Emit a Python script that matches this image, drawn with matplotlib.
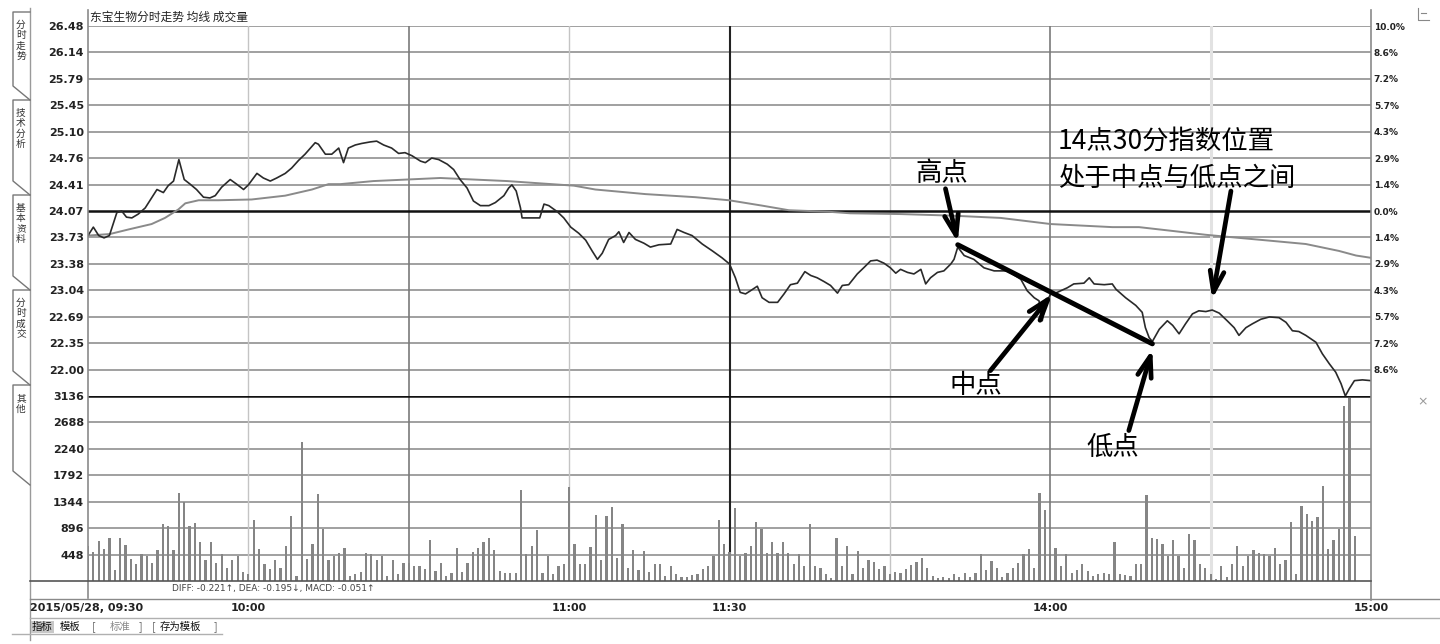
import matplotlib.pyplot as plt
import numpy as np

plt.rcParams['font.family'] = ['Noto Sans CJK SC', 'DejaVu Sans']

W, H = 1440, 644

# previous close and price axis labels
prev_close = 24.07
price_ticks = [26.48, 26.14, 25.79, 25.45, 25.10, 24.76, 24.41, 24.07,
               23.73, 23.38, 23.04, 22.69, 22.35, 22.00]
pct_labels = ['10.0%', '8.6%', '7.2%', '5.7%', '4.3%', '2.9%', '1.4%', '0.0%',
              '1.4%', '2.9%', '4.3%', '5.7%', '7.2%', '8.6%']
vol_ticks = [448, 896, 1344, 1792, 2240, 2688, 3136]
time_ticks = [0, 30, 90, 120, 180, 240]
time_labels = ['2015/05/28, 09:30', '10:00', '11:00', '11:30', '14:00', '15:00']

# price line, minutes of trading time after 09:30
price_t = [0, 1, 2, 3, 4, 5.4, 6.3, 7.2, 8.2, 9.4, 10.7, 11.9, 12.9, 14.1, 15.0,
           16.0, 17.0, 18.0, 19.1, 20.3, 21.6, 22.8, 23.8, 25.0, 26.6, 27.8, 29.1,
           30.0, 31.6, 32.8, 34.1, 35.3, 36.9, 38.1, 39.4, 40.6, 42.5, 43.1, 44.4,
           45.6, 46.9, 47.8, 48.7, 50.0, 51.2, 52.8, 54.0, 55.3, 56.8, 58.1, 59.3,
           60.6, 62.2, 63.1, 64.3, 65.6, 67.2, 68.4, 69.6, 70.9, 72.1, 73.4, 75.0,
           76.2, 77.8, 78.7, 79.3, 80.1, 80.9, 81.2, 82.8, 84.5, 85.3, 86.2, 87.8,
           89.0, 90.3, 91.8, 93.1, 94.3, 95.3, 96.2, 97.4, 98.7, 99.3, 100.2, 101.2,
           102.4, 104.0, 105.2, 106.8, 109.0, 110.2, 111.5, 113.0, 114.9, 116.8,
           118.6, 120.0, 121.1, 122.0, 123.0, 123.9, 125.2, 126.1, 127.4, 129.0,
           130.2, 131.4, 132.7, 134.1, 135.2, 136.4, 137.7, 138.9, 140.2, 141.1,
           142.3, 143.9, 145.1, 146.4, 147.6, 148.9, 150.1, 151.1, 152.0, 153.3,
           154.5, 155.8, 156.7, 157.6, 158.9, 160.1, 161.4, 162.0, 162.7, 163.9,
           165.7, 167.6, 169.5, 172.0, 174.5, 175.7, 177.0, 177.9, 178.5, 179.1,
           180.1, 181.3, 183.2, 184.4, 186.3, 187.3, 188.2, 190.1, 191.6, 192.3,
           194.1, 196.0, 197.2, 197.8, 198.5, 199.1, 200.4, 201.9, 202.9, 204.1,
           205.3, 206.6, 207.8, 209.1, 210.3, 211.6, 213.1, 214.4, 215.3, 216.6,
           217.8, 219.4, 221.0, 222.8, 224.1, 225.3, 226.5, 227.8, 229.7, 230.9,
           232.2, 233.4, 234.4, 235.2, 235.9, 236.9, 238.4, 240.0]
price_v = [23.75, 23.86, 23.75, 23.72, 23.75, 24.05, 24.07, 23.99, 23.98, 24.03,
           24.11, 24.24, 24.35, 24.31, 24.40, 24.46, 24.74, 24.48, 24.42, 24.35,
           24.25, 24.24, 24.27, 24.38, 24.48, 24.42, 24.35, 24.41, 24.56, 24.50,
           24.46, 24.50, 24.56, 24.63, 24.73, 24.81, 24.96, 24.94, 24.81, 24.81,
           24.89, 24.70, 24.89, 24.93, 24.95, 24.97, 24.98, 24.93, 24.89, 24.82,
           24.83, 24.79, 24.72, 24.70, 24.76, 24.74, 24.68, 24.61, 24.48, 24.37,
           24.20, 24.14, 24.14, 24.18, 24.27, 24.37, 24.41, 24.33, 24.11, 23.98,
           23.98, 23.98, 24.16, 24.14, 24.06, 23.98, 23.86, 23.78, 23.69, 23.55,
           23.44, 23.52, 23.70, 23.75, 23.80, 23.66, 23.79, 23.70, 23.65, 23.60,
           23.63, 23.64, 23.83, 23.79, 23.75, 23.64, 23.55, 23.46, 23.38, 23.20,
           23.01, 22.99, 23.03, 23.09, 22.94, 22.88, 22.88, 22.99, 23.11, 23.13,
           23.28, 23.23, 23.20, 23.15, 23.10, 23.00, 23.10, 23.11, 23.25, 23.33,
           23.42, 23.43, 23.39, 23.33, 23.26, 23.31, 23.27, 23.25, 23.31, 23.12,
           23.20, 23.27, 23.29, 23.38, 23.44, 23.60, 23.49, 23.44, 23.33, 23.29,
           23.29, 23.18, 23.03, 22.94, 22.90, 22.64, 22.86, 22.99, 23.01, 23.07,
           23.12, 23.13, 23.20, 23.12, 23.11, 23.12, 23.05, 22.94, 22.84, 22.75,
           22.55, 22.42, 22.37, 22.53, 22.64, 22.58, 22.47, 22.60, 22.73, 22.77,
           22.76, 22.78, 22.74, 22.64, 22.55, 22.45, 22.55, 22.60, 22.66, 22.69,
           22.68, 22.62, 22.51, 22.50, 22.45, 22.36, 22.21, 22.08, 21.97, 21.82,
           21.66, 21.75, 21.86, 21.87, 21.86]

# average price line
avg_t = [0, 4.1, 7.6, 11.9, 14.4, 16.9, 18.2, 20.7, 24.4, 30.6, 36.9, 41.9, 45.0,
         47.2, 53.4, 59.7, 65.9, 72.1, 78.4, 84.6, 90.9, 94.9, 104.3, 113.6, 119.9,
         126.1, 131.1, 138.6, 142.6, 152.0, 161.4, 170.7, 180.1, 191.6, 196.6,
         202.9, 209.1, 215.3, 221.6, 227.8, 234.0, 237.2, 240.0]
avg_v = [23.75, 23.77, 23.83, 23.90, 23.98, 24.09, 24.17, 24.21, 24.21, 24.22,
         24.27, 24.35, 24.42, 24.42, 24.46, 24.48, 24.50, 24.48, 24.46, 24.43,
         24.40, 24.35, 24.29, 24.25, 24.21, 24.14, 24.08, 24.06, 24.04, 24.03,
         24.01, 23.98, 23.90, 23.86, 23.86, 23.81, 23.76, 23.72, 23.68, 23.64,
         23.55, 23.49, 23.46]

# volume per minute
volume = [595, 500, 680, 550, 725, 180, 737, 612, 380, 283, 453, 425, 312, 520,
          964, 935, 520, 1500, 1344, 935, 990, 663, 351, 663, 312, 465, 227, 351,
          425, 150, 113, 1030, 550, 283, 198, 351, 227, 595, 1094, 85, 2353, 380,
          624, 1474, 879, 351, 425, 482, 567, 85, 125, 160, 482, 465, 351, 425, 85,
          351, 125, 312, 300, 255, 255, 210, 692, 170, 312, 85, 142, 556, 160, 312,
          500, 567, 669, 725, 520, 170, 142, 142, 142, 1542, 453, 595, 862, 142,
          425, 113, 255, 283, 1588, 624, 283, 295, 578, 1123, 351, 1105, 1247, 385,
          964, 215, 520, 181, 510, 160, 295, 283, 85, 255, 113, 68, 68, 102, 113,
          198, 255, 425, 1030, 624,
          500, 1236, 425, 482, 595, 992, 879, 482, 669, 482, 669, 482, 295, 453,
          255, 964, 255, 215, 113, 45, 737, 255, 595, 113, 510, 227, 351, 329, 198,
          255, 125, 159, 142, 198, 272, 329, 397, 227, 85, 45, 68, 45, 113, 68, 142,
          68, 142, 453, 181, 340, 227, 68, 142, 227, 312, 453, 539, 227, 1500, 1202,
          425, 556, 255, 453, 142, 181, 283, 170, 85, 113, 142, 125, 669, 113, 102,
          85, 283, 283, 1463, 726, 709, 635, 425, 692, 425, 227, 794, 692, 283, 227,
          125, 28, 255, 68, 283, 595, 255, 425, 522, 482, 465, 425, 556, 295, 351,
          1004, 113, 1276, 1134, 1021, 1089, 1616, 539, 692, 879, 2960, 3100, 765]

# vertical time lines: minute -> (colour, width)
vlines = {30: ('#c4c4c4', 1.0), 60: ('#7a7a7a', 1.2), 90: ('#c4c4c4', 1.0),
          120: ('#222222', 1.5), 150: ('#c4c4c4', 1.0), 180: ('#7a7a7a', 1.2),
          210: ('#e2e2e2', 2.2)}

grid_c = '#a0a0a0'
tick_font = dict(family='DejaVu Sans', fontweight='bold', fontsize=8, color='#222222')

fig = plt.figure(figsize=(W / 100, H / 100), dpi=100)

x0, x1 = 88, 1371
ax_v = fig.add_axes([x0 / W, 1 - 581 / H, (x1 - x0) / W, (581 - 396) / H])
ax_p = fig.add_axes([x0 / W, 1 - 396 / H, (x1 - x0) / W, (396 - 26) / H])

for ax in (ax_p, ax_v):
    ax.set_xlim(0, 240)
    for s in ax.spines.values():
        s.set_visible(False)
    ax.set_xticks([])
    ax.tick_params(axis='y', length=0, pad=3)
    for m, (c, lw) in vlines.items():
        ax.axvline(m, color=c, lw=lw, zorder=1)

# price panel
ax_p.set_ylim(21.66, 26.48)
for p in price_ticks:
    if p == prev_close:
        ax_p.axhline(p, color='#111111', lw=1.8, zorder=2)
    else:
        ax_p.axhline(p, color=grid_c, lw=1.4, zorder=0)
ax_p.set_yticks(price_ticks)
ax_p.set_yticklabels(['%.2f' % p for p in price_ticks], **tick_font)
ax_p.plot(avg_t, avg_v, color='#8a8a8a', lw=1.4, zorder=3)
ax_p.plot(price_t, price_v, color='#2a2a2a', lw=1.2, zorder=4)

ax_r = ax_p.twinx()
ax_r.set_ylim(21.66, 26.48)
for s in ax_r.spines.values():
    s.set_visible(False)
ax_r.set_yticks(price_ticks)
ax_r.set_yticklabels(pct_labels, family='DejaVu Sans', fontweight='bold',
                     fontsize=6.5, color='#222222')
ax_r.tick_params(axis='y', length=0, pad=2)

# volume panel
ax_v.set_ylim(0, 3136)
for v in vol_ticks:
    if v == vol_ticks[-1]:
        ax_v.axhline(v, color='#111111', lw=1.8, zorder=2)
    else:
        ax_v.axhline(v, color=grid_c, lw=1.4, zorder=0)
ax_v.set_yticks(vol_ticks)
ax_v.set_yticklabels([str(v) for v in vol_ticks], **tick_font)
ax_v.bar(np.arange(len(volume)), volume, width=0.42, color='#858585', zorder=3)

# price panel sits above the volume panel so the annotations can overlap it
ax_p.set_zorder(ax_v.get_zorder() + 1)
ax_r.set_zorder(ax_p.get_zorder() + 1)
ax_p.patch.set_visible(False)

# annotation points taken from the price line
pt = np.array(price_t)
pv = np.array(price_v)
win = (pt > 155) & (pt < 170)
hi_i = np.where(win)[0][np.argmax(pv[win])]
win = (pt > 195) & (pt < 205)
lo_i = np.where(win)[0][np.argmin(pv[win])]
mid_i = np.argmin(np.abs(pt - 180.1))
p1430_i = np.argmin(np.abs(pt - 210.3))

ax_p.plot([pt[hi_i], pt[lo_i]], [pv[hi_i] + 0.03, pv[lo_i] - 0.03], color='black',
          lw=3.6, solid_capstyle='round', zorder=6)
arrow = dict(arrowstyle='->,head_length=1.5,head_width=0.5', lw=3.4, color='black',
             shrinkA=0, shrinkB=0)
ax_p.annotate('', xy=(pt[hi_i], pv[hi_i] + 0.06), xytext=(160.4, 24.36),
              arrowprops=arrow, annotation_clip=False, zorder=7)
ax_p.annotate('', xy=(pt[mid_i] + 0.3, pv[mid_i]), xytext=(168.8, 21.99),
              arrowprops=arrow, annotation_clip=False, zorder=7)
ax_p.annotate('', xy=(pt[lo_i], pv[lo_i] - 0.1), xytext=(194.7, 21.21),
              arrowprops=arrow, annotation_clip=False, zorder=7)
ax_p.annotate('', xy=(pt[p1430_i], pv[p1430_i] + 0.14), xytext=(213.8, 24.33),
              arrowprops=arrow, annotation_clip=False, zorder=7)

ann = dict(fontsize=19, color='black', zorder=8)
ax_p.text(159.7, 24.56, '高点', ha='center', va='center', **ann)
ax_p.text(166.0, 21.80, '中点', ha='center', va='center', **ann)
ax_p.text(191.7, 20.99, '低点', ha='center', va='center', clip_on=False, **ann)
ax_p.text(181.4, 24.98, '14点30分指数位置', ha='left', va='center', **ann)
ax_p.text(181.4, 24.49, '处于中点与低点之间', ha='left', va='center', **ann)

# frame, tabs and footer drawn in pixel space
deco = fig.add_axes([0, 0, 1, 1], zorder=10)
deco.set_xlim(0, W)
deco.set_ylim(H, 0)
deco.axis('off')

deco.plot([x0, x0], [10, 598], color='#8a8a8a', lw=1.2)
deco.plot([x1, x1], [10, 600], color='#8a8a8a', lw=1.2)
deco.plot([30, 30], [8, 640], color='#9a9a9a', lw=1.0)
deco.plot([30, x1], [580.5, 580.5], color='#555555', lw=1.2)
deco.plot([30, W], [599, 599], color='#8a8a8a', lw=1.0)
deco.plot([30, W], [618, 618], color='#b0b0b0', lw=1.0)
deco.plot([12, 222], [634, 634], color='#b0b0b0', lw=1.0)

deco.text(90, 17, '东宝生物分时走势 均线 成交量', fontsize=8.5, color='#222222',
          va='center', ha='left')
deco.text(172, 588, 'DIFF: -0.221↑, DEA: -0.195↓, MACD: -0.051↑', fontsize=6.5,
          color='#444444', va='center', ha='left', family=['DejaVu Sans'])

for m, lab in zip(time_ticks, time_labels):
    xp = x0 + m * (x1 - x0) / 240
    if m == 0:
        deco.text(30, 608, lab, ha='left', va='center', **tick_font)
    else:
        deco.text(xp, 608, lab, ha='center', va='center', **tick_font)

tabs = [('分时走势', 12, 100), ('技术分析', 100, 195), ('基本资料', 195, 290),
        ('分时成交', 290, 385), ('其他', 385, 485)]
for lab, ya, yb in tabs:
    deco.plot([30, 13, 13, 30], [ya, ya, yb - 14, yb], color='#777777', lw=1.0)
    deco.text(21, ya + 8, '\n'.join(lab), fontsize=7, color='#333333',
              ha='center', va='top', linespacing=1.05)

deco.text(32, 627, '指标', fontsize=7.5, color='#111111', va='center', ha='left',
          bbox=dict(boxstyle='square,pad=0.1', fc='#c8c8c8', ec='none'))
deco.text(60, 627, '模板', fontsize=7.5, color='#111111', va='center', ha='left')
deco.text(92, 627, '[', fontsize=7.5, color='#666666', va='center', ha='left')
deco.text(110, 627, '标准', fontsize=7.5, color='#888888', va='center', ha='left')
deco.text(139, 627, ']', fontsize=7.5, color='#666666', va='center', ha='left')
deco.text(152, 627, '[', fontsize=7.5, color='#666666', va='center', ha='left')
deco.text(160, 627, '存为模板', fontsize=7.5, color='#111111', va='center', ha='left')
deco.text(214, 627, ']', fontsize=7.5, color='#666666', va='center', ha='left')

deco.plot([1418, 1418, 1429], [8, 20, 20], color='#888888', lw=0.8)
deco.plot([1421, 1426], [13, 13], color='#888888', lw=0.8)
deco.text(1423, 402, '×', fontsize=9, color='#999999', ha='center', va='center',
          family=['DejaVu Sans'])

fig.savefig('out.png', dpi=100)
